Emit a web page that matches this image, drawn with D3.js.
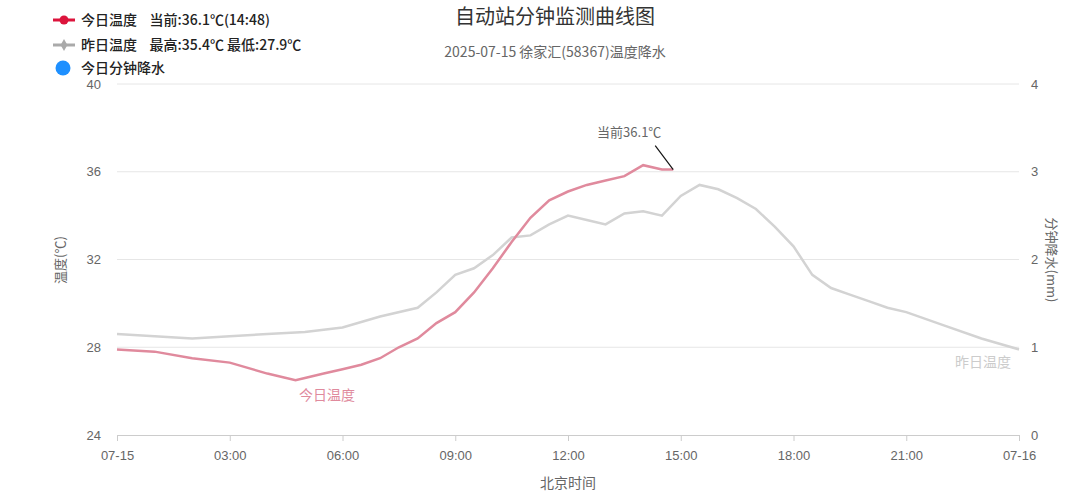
<!DOCTYPE html>
<html><head><meta charset="utf-8">
<script src="https://cdn.jsdelivr.net/npm/d3@7"></script>
<style>body{margin:0;background:#fff;font-family:"Noto Sans CJK SC","Noto Sans",sans-serif}</style>
</head><body>
<script>
// hours since 07-15 00:00
let todayHours = [0,1,2,3,4,4.75,5,5.5,6,6.5,7,7.5,8,8.5,9,9.5,10,10.5,11,11.5,12,12.5,13,13.5,14,14.5,14.8];
let todayTemp = [27.9,27.8,27.5,27.3,26.8,26.5,26.6,26.8,27.0,27.2,27.5,28.0,28.4,29.1,29.6,30.5,31.6,32.8,33.9,34.7,35.1,35.4,35.6,35.8,36.3,36.1,36.1];
let yestHours = [0,1,2,3,4,5,6,7,8,8.5,9,9.5,10,10.5,11,11.5,12,12.5,13,13.5,14,14.5,15,15.5,16,16.5,17,17.5,18,18.5,19,19.5,20,20.5,21,22,23,24];
let yestTemp = [28.6,28.5,28.4,28.5,28.6,28.7,28.9,29.4,29.8,30.5,31.3,31.6,32.2,33.0,33.1,33.6,34.0,33.8,33.6,34.1,34.2,34.0,34.9,35.4,35.2,34.8,34.3,33.5,32.6,31.3,30.7,30.4,30.1,29.8,29.6,29.0,28.4,27.9];
let xTicks = [0,3,6,9,12,15,18,21,24];
let xTickLabels = ['07-15','03:00','06:00','09:00','12:00','15:00','18:00','21:00','07-16'];
let tempTicks = [24,28,32,36,40];
let rainTicks = [0,1,2,3,4];

let svg = d3.select('body').append('svg').attr('width',1080).attr('height',504);
let x = d3.scaleLinear().domain([0,24]).range([117,1019]);
let y = d3.scaleLinear().domain([24,40]).range([435,84]);
let yR = d3.scaleLinear().domain([0,4]).range([435,84]);

//grid
svg.append('g').selectAll('line').data(tempTicks.slice(1)).enter().append('line')
	.attr('x1',117).attr('x2',1019).attr('y1',d=>y(d)).attr('y2',d=>y(d))
	.attr('stroke','#e6e6e6');

let xAxis = svg.append('g').attr('transform','translate(0,435)')
	.call(d3.axisBottom(x).tickValues(xTicks).tickFormat((d,i)=>xTickLabels[i]).tickSize(6));
xAxis.select('.domain').attr('stroke','#ccc');
xAxis.selectAll('line').attr('stroke','#ccc');
xAxis.selectAll('text').attr('fill','#666').attr('font-size',13).attr('dy','1.2em');

let yAxis = svg.append('g').attr('transform','translate(104,0)')
	.call(d3.axisLeft(y).tickValues(tempTicks).tickSize(0));
yAxis.select('.domain').remove();
yAxis.selectAll('text').attr('fill','#666').attr('font-size',13);

let yAxisR = svg.append('g').attr('transform','translate(1028,0)')
	.call(d3.axisRight(yR).tickValues(rainTicks).tickFormat(d3.format('d')).tickSize(0));
yAxisR.select('.domain').remove();
yAxisR.selectAll('text').attr('fill','#666').attr('font-size',13);

let line = d3.line().x(d=>x(d[0])).y(d=>y(d[1]));
svg.append('path').datum(d3.zip(yestHours,yestTemp)).attr('d',line)
	.attr('fill','none').attr('stroke','#d3d3d3').attr('stroke-width',2.5);
svg.append('path').datum(d3.zip(todayHours,todayTemp)).attr('d',line)
	.attr('fill','none').attr('stroke','#e08a9d').attr('stroke-width',2.5);

//labels
svg.append('text').attr('x',555).attr('y',24).attr('text-anchor','middle')
	.attr('font-size',20).attr('fill','#333').text('自动站分钟监测曲线图');
svg.append('text').attr('x',555).attr('y',57).attr('text-anchor','middle')
	.attr('font-size',14).attr('fill','#666').text('2025-07-15 徐家汇(58367)温度降水');
svg.append('text').attr('transform','translate(65,260) rotate(-90)').attr('text-anchor','middle')
	.attr('font-size',13).attr('fill','#666').text('温度(℃)');
svg.append('text').attr('transform','translate(1047,260) rotate(90)').attr('text-anchor','middle')
	.attr('font-size',13).attr('fill','#666').text('分钟降水(mm)');
svg.append('text').attr('x',568).attr('y',488).attr('text-anchor','middle')
	.attr('font-size',14).attr('fill','#666').text('北京时间');
svg.append('text').attr('x',327).attr('y',400).attr('text-anchor','middle')
	.attr('font-size',14).attr('fill','#e08a9d').text('今日温度');
svg.append('text').attr('x',983).attr('y',367).attr('text-anchor','middle')
	.attr('font-size',14).attr('fill','#ccc').text('昨日温度');

let last = todayTemp.length-1;
svg.append('line').attr('x1',x(todayHours[last])-18).attr('y1',y(todayTemp[last])-24)
	.attr('x2',x(todayHours[last])).attr('y2',y(todayTemp[last])).attr('stroke','#111').attr('stroke-width',1.2);
svg.append('text').attr('x',x(todayHours[last])-44).attr('y',y(todayTemp[last])-33).attr('text-anchor','middle')
	.attr('font-size',13).attr('fill','#666').text('当前' + todayTemp[last] + '℃');

//legend
let lg = svg.append('g');
lg.append('line').attr('x1',53).attr('x2',75).attr('y1',20).attr('y2',20).attr('stroke','#dc143c').attr('stroke-width',3);
lg.append('circle').attr('cx',64).attr('cy',20).attr('r',4.5).attr('fill','#dc143c');
lg.append('line').attr('x1',53).attr('x2',75).attr('y1',45).attr('y2',45).attr('stroke','#aaa').attr('stroke-width',3);
lg.append('path').attr('d',d3.symbol(d3.symbolDiamond,40)()).attr('transform','translate(64,45)').attr('fill','#aaa');
lg.append('circle').attr('cx',63).attr('cy',68).attr('r',7.5).attr('fill','#1e90ff');
let lt = [['今日温度    当前:36.1℃(14:48)',25],['昨日温度    最高:35.4℃ 最低:27.9℃',50],['今日分钟降水',73]];
lg.selectAll('text').data(lt).enter().append('text').attr('x',81).attr('y',d=>d[1])
	.attr('font-size',14).attr('font-weight',500).attr('fill','#222').attr('xml:space','preserve').style('white-space','pre').text(d=>d[0]);
</script>
</body></html>
